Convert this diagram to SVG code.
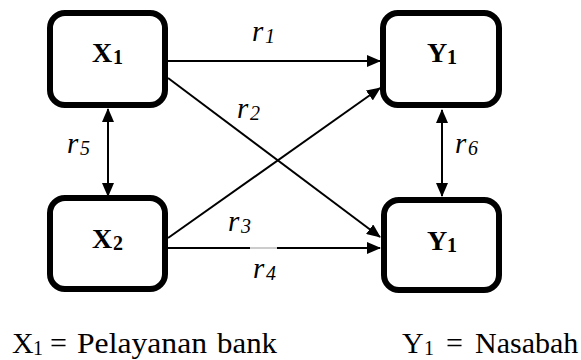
<svg xmlns="http://www.w3.org/2000/svg" width="581" height="360" viewBox="0 0 581 360">
<style>
.box{fill:#fff;stroke:#000;stroke-width:6}
.t{font-family:'Liberation Serif','Times New Roman',serif;fill:#000}
.b{font-weight:bold;font-size:28px}
.bs{font-weight:bold;font-size:20px}
.r{font-style:italic;font-size:29px}
.rs{font-style:italic;font-size:20px}
.leg{font-size:30px}
.ls{font-size:20px}
.c{stroke:#000;stroke-width:2;fill:none}
</style>
<defs>
<marker id="ah" markerUnits="userSpaceOnUse" markerWidth="14" markerHeight="12" refX="13" refY="6" orient="auto-start-reverse" viewBox="0 0 14 12">
<path d="M0,0 L14,6 L0,12 z" fill="#000"/>
</marker>
</defs>
<g id="connectors">
<line class="c" x1="168" y1="61" x2="380" y2="61" marker-end="url(#ah)"/>
<line class="c" x1="168" y1="78" x2="380" y2="237" marker-end="url(#ah)"/>
<line class="c" x1="168" y1="238" x2="380" y2="88" marker-end="url(#ah)"/>
<line class="c" x1="168" y1="248" x2="250" y2="248"/>
<line stroke="#999" stroke-width="1" x1="250" y1="248" x2="277" y2="248"/>
<line class="c" x1="277" y1="248" x2="380" y2="248" marker-end="url(#ah)"/>
<line class="c" x1="108" y1="109" x2="108" y2="196" marker-start="url(#ah)" marker-end="url(#ah)"/>
<line class="c" x1="442" y1="110" x2="442" y2="196" marker-start="url(#ah)" marker-end="url(#ah)"/>
</g>
<g id="X1">
<rect class="box" x="50" y="13" width="115" height="92" rx="15"/>
<text class="t b" x="92" y="62">X</text>
<text class="t bs" x="113" y="64">1</text>
</g>
<g id="Y1a">
<rect class="box" x="383" y="13" width="116" height="92" rx="15"/>
<text class="t b" x="427" y="62">Y</text>
<text class="t bs" x="447" y="64">1</text>
</g>
<g id="X2">
<rect class="box" x="50" y="198" width="115" height="91" rx="15"/>
<text class="t b" x="92" y="248">X</text>
<text class="t bs" x="113" y="250">2</text>
</g>
<g id="Y1b">
<rect class="box" x="384" y="200" width="115" height="90" rx="15"/>
<text class="t b" x="427" y="250">Y</text>
<text class="t bs" x="447" y="252">1</text>
</g>
<g id="labels">
<text class="t r" x="252" y="41">r</text><text class="t rs" x="265" y="43">1</text>
<text class="t r" x="237" y="118">r</text><text class="t rs" x="250" y="120">2</text>
<text class="t r" x="67" y="153">r</text><text class="t rs" x="80" y="155">5</text>
<text class="t r" x="455" y="153">r</text><text class="t rs" x="468" y="155">6</text>
<text class="t r" x="228" y="231">r</text><text class="t rs" x="241" y="233">3</text>
<text class="t r" x="253" y="278">r</text><text class="t rs" x="266" y="280">4</text>
</g>
<g id="legend">
<text class="t leg" x="12" y="353">X</text>
<text class="t ls" x="33" y="355">1</text>
<text class="t leg" x="50" y="353">=</text>
<text class="t leg" x="77" y="353" textLength="130" lengthAdjust="spacingAndGlyphs">Pelayanan</text>
<text class="t leg" x="217" y="353" textLength="60" lengthAdjust="spacingAndGlyphs">bank</text>
<text class="t leg" x="402" y="353">Y</text>
<text class="t ls" x="424" y="355">1</text>
<text class="t leg" x="446" y="353">=</text>
<text class="t leg" x="475" y="353">Nasabah</text>
</g>
</svg>
